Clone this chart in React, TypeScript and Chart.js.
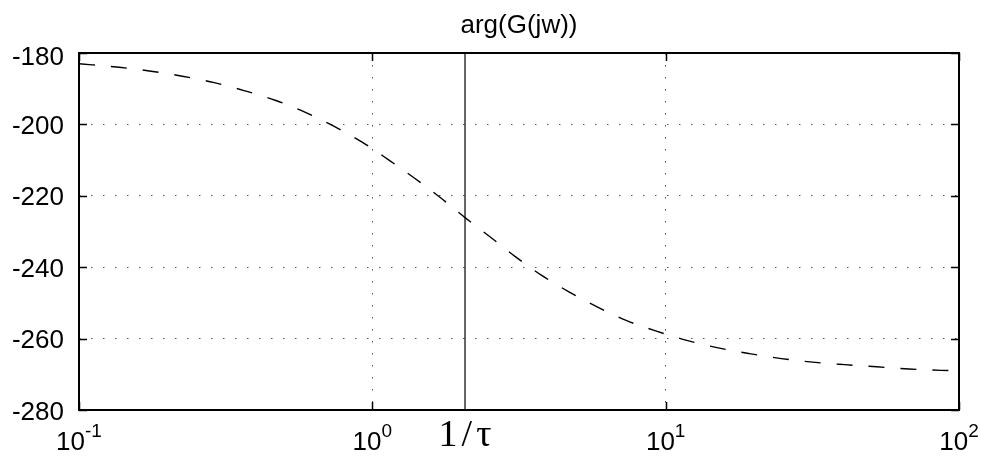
import React, { useEffect, useRef } from "react";
import { Chart, registerables } from "chart.js";

Chart.register(...registerables);

const TITLE = "arg(G(jw))";

// frequency (rad/s), log axis
const frequency = [
  0.1, 0.137, 0.176, 0.225, 0.289, 0.368, 0.469, 0.594, 0.739, 0.92, 1.13, 1.39,
  1.7, 2.07, 2.53, 3.08, 3.78, 4.68, 5.84, 7.33, 9.3, 11.8, 15.1, 19.3, 24.8,
  31.7, 40.8, 52.4, 67.4, 86.7, 100,
];
// phase (degrees)
const phaseDeg = [
  -183.0, -184.0, -185.1, -186.5, -188.3, -190.6, -193.3, -196.7, -200.5,
  -204.9, -209.8, -215.0, -220.4, -226.1, -231.6, -237.1, -242.3, -246.9,
  -251.1, -254.9, -257.9, -260.5, -262.6, -264.2, -265.6, -266.6, -267.3,
  -267.9, -268.5, -268.9, -269.0,
];

const cornerFrequency = 2.07;
const cornerLabel = "1/τ";

const xTickValues = [0.1, 1, 10, 100];
const xTickBase = ["10", "10", "10", "10"];
const xTickExp = ["-1", "0", "1", "2"];
const xMin = 0.1;
const xMax = 100;

const yTickValues = [-280, -260, -240, -220, -200, -180];
const yMin = -280;
const yMax = -180;

const SANS = "'Liberation Sans', Arial, Helvetica, sans-serif";
const SERIF = "'Liberation Serif', 'Times New Roman', serif";

export default function App() {
  const ref = useRef<HTMLCanvasElement>(null);

  useEffect(() => {
    const canvas = ref.current;
    if (!canvas) return;

    const decor = {
      id: "matlabDecor",
      afterDraw(chart: any) {
        const { ctx, chartArea: a, scales } = chart;
        const xs = scales.x;
        const ys = scales.y;
        ctx.save();
        ctx.setLineDash([]);
        ctx.strokeStyle = "#000";

        // inward tick marks on all four sides
        ctx.lineWidth = 1.5;
        ctx.beginPath();
        for (const v of xTickValues) {
          const px = Math.round(xs.getPixelForValue(v)) + 0.5;
          ctx.moveTo(px, a.bottom);
          ctx.lineTo(px, a.bottom - 8);
          ctx.moveTo(px, a.top);
          ctx.lineTo(px, a.top + 8);
        }
        for (const v of yTickValues) {
          const py = Math.round(ys.getPixelForValue(v)) + 0.5;
          ctx.moveTo(a.left, py);
          ctx.lineTo(a.left + 8, py);
          ctx.moveTo(a.right, py);
          ctx.lineTo(a.right - 8, py);
        }
        ctx.stroke();

        // axes box
        ctx.lineWidth = 2;
        ctx.strokeRect(a.left, a.top, a.right - a.left, a.bottom - a.top);

        ctx.fillStyle = "#000";

        // y tick labels
        ctx.font = `26px ${SANS}`;
        ctx.textAlign = "right";
        ctx.textBaseline = "alphabetic";
        for (const v of yTickValues) {
          const py = ys.getPixelForValue(v);
          const off = v === yMax ? 11.5 : 9.5;
          ctx.fillText(String(v), a.left - 15, py + off);
        }

        // x tick labels with superscript exponent
        ctx.textAlign = "left";
        for (let i = 0; i < xTickValues.length; i++) {
          const px = xs.getPixelForValue(xTickValues[i]);
          ctx.font = `26px ${SANS}`;
          const wb = ctx.measureText(xTickBase[i]).width;
          ctx.font = `19px ${SANS}`;
          const we = ctx.measureText(xTickExp[i]).width;
          const start = px - (wb + we) / 2;
          ctx.font = `26px ${SANS}`;
          ctx.fillText(xTickBase[i], start, 450);
          ctx.font = `19px ${SANS}`;
          ctx.fillText(xTickExp[i], start + wb, 437);
        }

        // title
        ctx.font = `26px ${SANS}`;
        ctx.textAlign = "center";
        ctx.fillText(TITLE, (a.left + a.right) / 2, 33);

        // corner frequency label
        ctx.font = `38px ${SERIF}`;
        ctx.textAlign = "center";
        (ctx as any).letterSpacing = "4px";
        ctx.fillText(cornerLabel, xs.getPixelForValue(cornerFrequency) + 2, 446);
        (ctx as any).letterSpacing = "0px";

        ctx.restore();
      },
    };

    const chart = new Chart(canvas, {
      type: "line",
      data: {
        datasets: [
          {
            label: "phase",
            data: frequency.map((f, i) => ({ x: f, y: phaseDeg[i] })),
            borderColor: "#000",
            borderWidth: 1.4,
            borderDash: [16, 16],
            pointRadius: 0,
            fill: false,
            cubicInterpolationMode: "monotone",
          },
          {
            label: "corner",
            data: [
              { x: cornerFrequency, y: yMax },
              { x: cornerFrequency, y: yMin },
            ],
            borderColor: "#000",
            borderWidth: 1.2,
            pointRadius: 0,
            fill: false,
          },
        ],
      },
      options: {
        animation: false,
        responsive: false,
        devicePixelRatio: 1,
        layout: { padding: { left: 79, top: 53, right: 22, bottom: 47 } },
        plugins: {
          legend: { display: false },
          title: { display: false },
          tooltip: { enabled: false },
        },
        scales: {
          x: {
            type: "logarithmic",
            min: xMin,
            max: xMax,
            afterBuildTicks: (scale: any) => {
              scale.ticks = xTickValues.map((v) => ({ value: v }));
            },
            ticks: { display: false },
            grid: { color: "#555", lineWidth: 1, drawTicks: false },
            border: { display: false, dash: [1.5, 10.5] },
          },
          y: {
            type: "linear",
            min: yMin,
            max: yMax,
            ticks: { display: false, stepSize: 20 },
            grid: { color: "#555", lineWidth: 1, drawTicks: false },
            border: { display: false, dash: [1.5, 10.5] },
          },
        },
      },
      plugins: [decor],
    } as any);

    return () => chart.destroy();
  }, []);

  return (
    <div style={{ position: "absolute", left: 0, top: 0, width: 981, height: 457, background: "#fff" }}>
      <canvas ref={ref} width={981} height={457} style={{ display: "block" }} />
    </div>
  );
}
